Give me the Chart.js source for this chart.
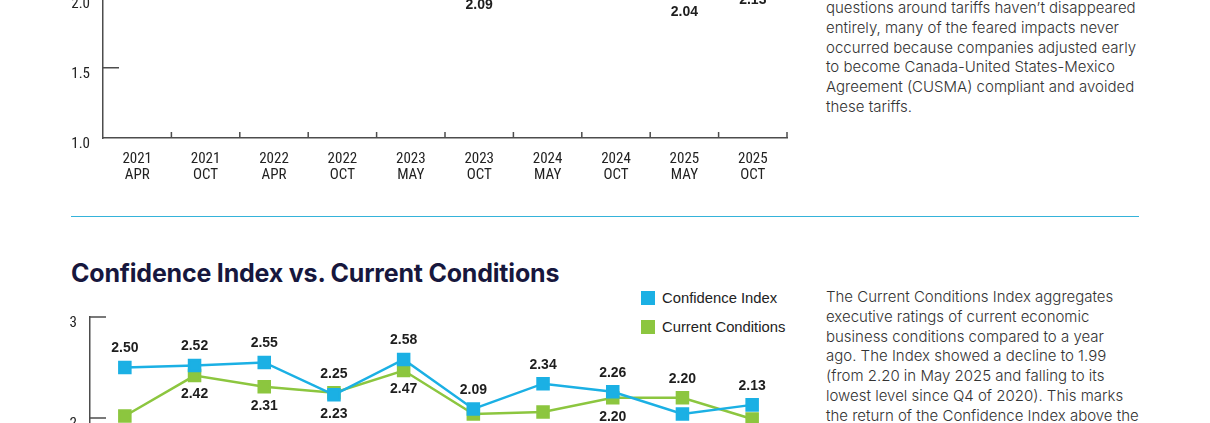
<!DOCTYPE html>
<html>
<head>
<meta charset="utf-8">
<script src="https://cdn.jsdelivr.net/npm/chart.js@4.4.1/dist/chart.umd.min.js"></script>
<style>
  html, body { margin: 0; padding: 0; background: #fff; }
  body { width: 1210px; height: 423px; overflow: hidden; position: relative; font-family: Inter, "Noto Sans", sans-serif; }
  .box { position: absolute; left: 0; width: 800px; }
  #topBox { top: -165px; height: 363px; }
  #botBox { top: 295px; height: 284px; }
  .rule { position: absolute; left: 71px; top: 216px; width: 1068px; height: 0; border-top: 1.5px solid #35b3da; }
  h2 { position: absolute; left: 71px; top: 258px; margin: 0; font: 700 25px Inter, sans-serif; color: #17173d; letter-spacing: -0.2px; white-space: nowrap; }
  .legend { position: absolute; left: 641px; font: 14.8px "Liberation Sans", Arial, sans-serif; color: #222; white-space: nowrap; }
  .legend span { display: inline-block; width: 14px; height: 14px; vertical-align: -2px; margin-right: 7px; }
  .para { position: absolute; left: 826px; font: 300 15px/19.8px Inter, sans-serif; color: #333; white-space: nowrap; }
</style>
</head>
<body>
<div class="box" id="topBox"><canvas id="topChart"></canvas></div>
<div class="rule"></div>
<h2>Confidence Index vs. Current Conditions</h2>
<div class="legend" style="top:290px"><span style="background:#1bb0e4"></span>Confidence Index</div>
<div class="legend" style="top:319px"><span style="background:#8cc63f"></span>Current Conditions</div>
<div class="box" id="botBox"><canvas id="botChart"></canvas></div>

<div class="para" style="top:-2px">questions around tariffs haven’t disappeared<br>entirely, many of the feared impacts never<br>occurred because companies adjusted early<br>to become Canada-United States-Mexico<br>Agreement (CUSMA) compliant and avoided<br>these tariffs.</div>
<div class="para" style="top:287px">The Current Conditions Index aggregates<br>executive ratings of current economic<br>business conditions compared to a year<br>ago. The Index showed a decline to 1.99<br>(from 2.20 in May 2025 and falling to its<br>lowest level since Q4 of 2020). This marks<br>the return of the Confidence Index above the</div>

<script>
// survey periods
const periods = [
  ['2021', 'APR'], ['2021', 'OCT'], ['2022', 'APR'], ['2022', 'OCT'], ['2023', 'MAY'],
  ['2023', 'OCT'], ['2024', 'MAY'], ['2024', 'OCT'], ['2025', 'MAY'], ['2025', 'OCT']
];
const confidenceIndex = [2.50, 2.52, 2.55, 2.23, 2.58, 2.09, 2.34, 2.26, 2.04, 2.13];
const currentConditions = [2.02, 2.42, 2.31, 2.25, 2.47, 2.04, 2.06, 2.20, 2.20, 1.99];

const BLUE = '#1bb0e4';
const GREEN = '#8cc63f';
const AXIS = '#4d4d4d';
const tickFont = { family: '"Liberation Sans Narrow", "Arial Narrow", "Roboto Condensed", "Liberation Sans", sans-serif', size: 15 };

// inward axis ticks + value labels
const marks = {
  id: 'marks',
  afterDraw(chart, args, opts) {
    const { ctx, chartArea, scales: { x, y } } = chart;
    ctx.save();
    ctx.strokeStyle = AXIS;
    ctx.lineWidth = 1.5;
    ctx.beginPath();
    y.ticks.forEach(t => {
      if (t.value === y.min) return;
      const py = y.getPixelForValue(t.value);
      ctx.moveTo(chartArea.left, py);
      ctx.lineTo(chartArea.left + 16, py);
    });
    for (let i = 1; i <= x.ticks.length; i++) {
      const px = x.getPixelForValue(i - 0.5);
      ctx.moveTo(px, chartArea.bottom);
      ctx.lineTo(px, chartArea.bottom - 6);
    }
    ctx.stroke();

    ctx.font = 'bold 14px "Liberation Sans", Arial, sans-serif';
    ctx.fillStyle = '#1e1e1e';
    ctx.textAlign = 'center';
    ctx.textBaseline = 'middle';
    chart.data.datasets.forEach((ds, di) => {
      const meta = chart.getDatasetMeta(di);
      meta.data.forEach((pt, i) => {
        const dy = opts.side(di, i) * opts.gap;
        ctx.fillText(ds.data[i].toFixed(2), pt.x, pt.y + dy);
      });
    });
    ctx.restore();
  }
};

function lineSet(label, data, color) {
  return {
    label, data,
    borderColor: color, backgroundColor: color,
    borderWidth: 2.5,
    pointStyle: 'rect', pointRadius: 7.8, pointHoverRadius: 7.8,
    tension: 0, clip: false
  };
}

function makeOptions(yMin, yMax, step, fmt, yWidth, side, gap) {
  return {
    responsive: true,
    maintainAspectRatio: false,
    animation: false,
    layout: { autoPadding: false, padding: { top: 10, right: 13, left: 0, bottom: 0 } },
    plugins: { legend: { display: false }, tooltip: { enabled: false }, marks: { side, gap } },
    scales: {
      x: {
        offset: true,
        grid: { display: true, drawOnChartArea: false, drawTicks: false },
        border: { display: true, color: AXIS, width: 1.5 },
        ticks: { color: '#222', font: { ...tickFont, lineHeight: 1.03 }, padding: 14, maxRotation: 0, autoSkip: false },
        afterFit(s) { s.height = 60; }
      },
      y: {
        min: yMin, max: yMax,
        grid: { display: true, drawOnChartArea: false, drawTicks: false },
        border: { display: true, color: AXIS, width: 1.5 },
        ticks: { stepSize: step, color: '#222', font: tickFont, padding: 13, labelOffset: 6.5, callback: v => fmt(v) },
        afterFit(s) { s.width = yWidth; }
      }
    }
  };
}

new Chart(document.getElementById('topChart'), {
  type: 'line',
  data: { labels: periods, datasets: [lineSet('Confidence Index', confidenceIndex, BLUE)] },
  options: makeOptions(1, 3, 0.5, v => v.toFixed(1), 103, () => 1, 20.5),
  plugins: [marks]
});

new Chart(document.getElementById('botChart'), {
  type: 'line',
  data: {
    labels: periods,
    datasets: [
      lineSet('Confidence Index', confidenceIndex, BLUE),
      lineSet('Current Conditions', currentConditions, GREEN)
    ]
  },
  options: makeOptions(1, 3, 1, v => String(v), 90, (di, i) => {
    const blueHigher = confidenceIndex[i] >= currentConditions[i];
    return di === 0 ? (blueHigher ? -1 : 1) : (blueHigher ? 1 : -1);
  }, 19),
  plugins: [marks]
});
</script>
</body>
</html>
